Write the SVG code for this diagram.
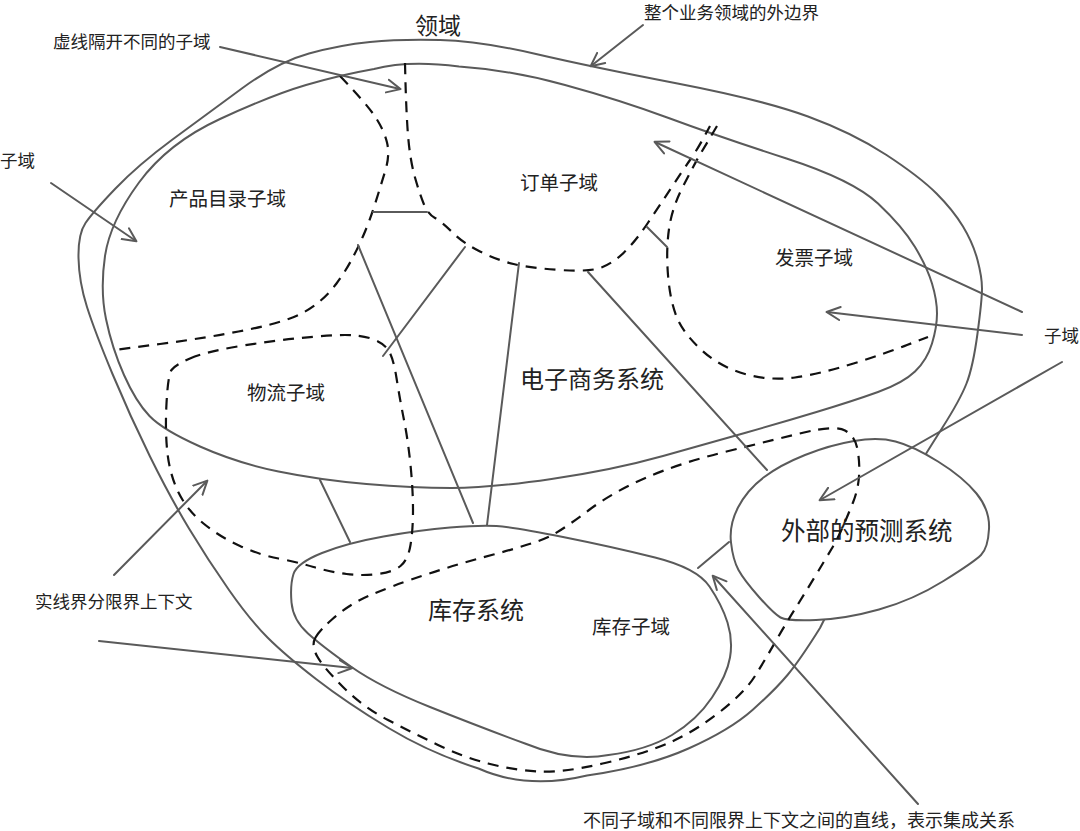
<svg xmlns="http://www.w3.org/2000/svg" width="1080" height="831" viewBox="0 0 1080 831">
<style>
.solid{fill:none;stroke:#5a5a5a;stroke-width:2;stroke-linecap:round;stroke-linejoin:round}
.dash{fill:none;stroke:#111;stroke-width:2.2;stroke-dasharray:11 8}
.link{fill:none;stroke:#5a5a5a;stroke-width:2;stroke-linecap:round}
.note{fill:none;stroke:#5a5a5a;stroke-width:2;stroke-linecap:round;marker-end:url(#open)}
text{font-family:"Noto Sans CJK SC","Noto Sans",sans-serif;fill:#222}
.t17{font-size:17.5px}
.t19{font-size:19.5px}
.t24{font-size:24px}
</style>
<defs>
<marker id="open" viewBox="0 0 16 16" refX="14" refY="8" markerWidth="16" markerHeight="16" markerUnits="userSpaceOnUse" orient="auto">
<path d="M1,1.5 L14.5,8 L1,14.5" fill="none" stroke="#5a5a5a" stroke-width="2" stroke-linecap="round" stroke-linejoin="round"/>
</marker>
</defs>
<rect width="1080" height="831" fill="#fff"/>

<g id="domain">
<path class="solid" d="M828,612 L820,628 Q800,660 787.5,675 Q775,690 752.5,710 Q730,730 688.5,748.5 Q647,767 587,775.5 Q527,790 478.5,768.5 Q430,753 388.5,728 Q347,703 316,679 Q285,655 267.5,637.5 Q250,620 229,590 Q208,560 189,528.5 Q170,497 150,456.5 Q130,416 112.5,374 Q95,332 87,307 Q79,282 78.5,258 Q78,234 85.5,223 Q93,212 115.5,188.5 Q138,165 172.5,139.5 Q207,114 242.5,88 Q278,62 309,53.5 Q340,45 370,42 Q400,39 440,40 Q480,41 536,54 Q592,67 677.5,83.5 Q763,100 808,116.5 Q853,133 886.5,155 Q920,177 936.5,193.5 Q953,210 963,226.5 Q973,243 977.5,260 Q982,277 982,288.5 Q982,300 977.5,333.5 Q973,367 966.5,383.5 Q960,400 942.5,427.5 Q925,455 910,480 L895,505"/>
<text class="t24" x="415" y="34" style="font-size:23px">领域</text>
</g>

<g id="ecommerce-system">
<path class="solid" d="M105,256 Q110,222 139,182.5 Q168,143 220,119 Q272,95 306,85 Q340,75 374,69 Q408,60 459,66.5 Q510,70 565,85 Q620,100 670,118.5 Q720,137 786.5,158.5 Q853,180 878,203.5 Q903,227 915,247 Q927,267 932,283.5 Q937,300 937,313.5 Q937,327 932,343.5 Q927,360 915,371.5 Q903,383 878,392 Q853,401 816.5,412 Q780,423 746.5,432.5 Q713,442 663,456 Q613,470 551.5,479 Q490,488 451.5,488 Q413,488 366.5,484 Q320,480 278.5,471.5 Q237,463 200,446.5 Q163,430 149.5,416 Q136,402 124,375 Q112,348 106,319 Q100,290 105,256 Z"/>
<text class="t24" x="520" y="388">电子商务系统</text>
</g>

<g id="inventory-system">
<path class="solid" d="M322,553 Q347,543 383.5,536.5 Q420,530 450,527.5 Q480,525 496.5,526 Q513,527 563,537 Q613,547 655,557.5 Q697,568 709.5,586.5 Q722,605 727.5,622.5 Q733,640 730,657.5 Q727,675 712,697.5 Q697,720 672,735 Q647,750 608.5,755 Q570,762 525,743.5 Q480,727 430,707 Q380,687 351.5,667 Q323,647 308,633.5 Q293,620 291.5,602.5 Q290,585 293.5,574 Q297,563 322,553 Z"/>
<text class="t24" x="428" y="619">库存系统</text>
</g>

<g id="forecast-system">
<path class="solid" style="fill:#fff" d="M738,507.5 Q747,490 763.5,477.5 Q780,465 805,455 Q830,445 854,441 Q878,437 895.5,441.5 Q913,446 938,461.5 Q963,477 976.5,493.5 Q990,510 989,529 Q988,548 981,555 Q974,562 943.5,581 Q913,600 879,609.5 Q845,619 816,620 Q787,621 780.5,617.5 Q774,614 759,597 Q744,580 738.5,570 Q733,560 731,542.5 Q729,525 738,507.5 Z"/>
<text class="t24" x="781" y="540" style="font-size:24.5px">外部的预测系统</text>
</g>

<g id="product-catalog-subdomain">
<path class="dash" d="M340,76 Q366,103 375,116.5 Q384,130 387,142.5 Q390,155 385.5,170 Q381,185 375.5,202.5 Q370,220 364,234 Q358,248 351.5,260 Q345,272 336.5,283.5 Q328,295 316.5,304 Q305,313 288.5,319 Q272,325 238.5,331.5 Q205,338 160,344 L115,350"/>
<text class="t19" x="169" y="206">产品目录子域</text>
</g>

<g id="order-subdomain">
<path class="dash" d="M405,63 Q406,110 408,135 Q410,160 415,177.5 Q420,195 424,204.5 Q428,214 435,218 Q442,222 452.5,232.5 Q463,243 480,251.5 Q497,260 513.5,264 Q530,268 560,270 Q590,272 601.5,267.5 Q613,263 624,252.5 Q635,242 647.5,223.5 Q660,205 671.5,187.5 Q683,170 690,160 Q697,150 703.5,138 L710,126"/>
<text class="t19" x="520" y="190">订单子域</text>
</g>

<g id="invoice-subdomain">
<path class="dash" d="M717,126 L698,158 Q693,167 682.5,187.5 Q672,208 669,229 Q666,250 668,275 Q670,300 676.5,316.5 Q683,333 701.5,350 Q720,367 745,374 Q770,381 795,377.5 Q820,374 853.5,363.5 Q887,353 907,345 L928,337"/>
<text class="t19" x="775" y="265">发票子域</text>
</g>

<g id="logistics-subdomain">
<path class="dash" d="M190,358.5 Q205,352 237.5,346.5 Q270,341 300,338 Q330,335 345,335 Q360,335 371,338.5 Q382,342 387.5,349 Q393,356 396.5,378 Q400,400 404,420 Q408,440 410.5,465 Q413,490 413,510 Q413,530 410.5,545 Q408,560 400.5,566 Q393,572 378,574 Q363,576 346.5,574 Q330,572 313.5,567 Q297,562 278.5,558.5 Q260,555 240,546 Q220,537 203.5,523.5 Q187,510 178.5,492.5 Q170,475 167.5,453.5 Q165,432 166.5,403.5 Q168,375 171.5,370 Q175,365 190,358.5 Z"/>
<text class="t19" x="247" y="400">物流子域</text>
</g>

<g id="inventory-subdomain">
<path class="dash" d="M315.5,637.5 Q320,630 332.5,619 Q345,608 359,600.5 Q373,593 410,580 Q447,567 493.5,554.5 Q540,542 552.5,535 Q565,528 589,510 Q613,492 646.5,477.5 Q680,463 726.5,451.5 Q773,440 804,432.5 Q835,425 845,430.5 Q855,436 857.5,449.5 Q860,463 859,476.5 Q858,490 853,502.5 Q848,515 843,526.5 Q838,538 831.5,549 Q825,560 815,576.5 Q805,593 795,609 Q785,625 775,642.5 Q765,660 755,676 Q745,692 721,711 Q697,730 672,741.5 Q647,753 605,763 Q563,773 538,771.5 Q513,770 488,763.5 Q463,757 438,745 Q413,733 388,720 Q363,707 343,687 Q323,667 317,656 Q311,645 315.5,637.5 Z"/>
<text class="t19" x="592" y="634">库存子域</text>
</g>

<g id="connectors">
<line class="link" x1="373" y1="212" x2="427" y2="212"/>
<line class="link" x1="358" y1="245" x2="473" y2="523"/>
<line class="link" x1="465" y1="247" x2="383" y2="356"/>
<line class="link" x1="519" y1="263" x2="487" y2="525"/>
<line class="link" x1="588" y1="272" x2="767" y2="470"/>
<line class="link" x1="320" y1="480" x2="350" y2="542"/>
<line class="link" x1="698" y1="568" x2="729" y2="542"/>
<line class="link" x1="647" y1="227" x2="667" y2="247"/>
<line class="note" x1="220" y1="47" x2="400" y2="89"/>
<line class="note" x1="643" y1="25" x2="591" y2="66"/>
<line class="note" x1="51" y1="183" x2="136" y2="241"/>
<line class="note" x1="1022" y1="312" x2="655" y2="142"/>
<line class="note" x1="1022" y1="335" x2="827" y2="312"/>
<line class="note" x1="1062" y1="362" x2="820" y2="500"/>
<line class="note" x1="114" y1="575" x2="207" y2="481"/>
<line class="note" x1="99" y1="641" x2="352" y2="668"/>
<line class="note" x1="918" y1="804" x2="713" y2="576"/>
</g>

<g id="annotations">
<text class="t17" x="53" y="48">虚线隔开不同的子域</text>
<text class="t17" x="644" y="19">整个业务领域的外边界</text>
<text class="t17" x="0" y="167">子域</text>
<text class="t17" x="1044" y="342">子域</text>
<text class="t17" x="35" y="608">实线界分限界上下文</text>
<text class="t17" x="583" y="827" style="font-size:18px">不同子域和不同限界上下文之间的直线，表示集成关系</text>
</g>
</svg>
